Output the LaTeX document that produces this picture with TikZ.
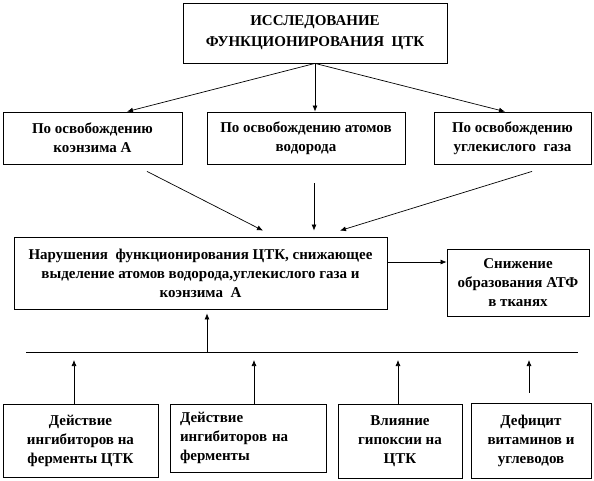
\documentclass[tikz,border=0pt]{standalone}
\usepackage{fontspec}
\setmainfont{Liberation Serif}
\usetikzlibrary{arrows.meta}

\begin{document}
\begin{tikzpicture}[
    x=1pt, y=-1pt,
    block/.style={
      draw,
      line width=0.8pt,
      align=center,
      inner sep=2pt,
      font=\bfseries\fontsize{15}{19}\selectfont
    },
    flow/.style={-{Latex[length=6pt,width=5pt]},line width=0.7pt}
  ]
    \useasboundingbox (0,0) rectangle (594,480);
    \node[block,minimum width=264pt,minimum height=60pt,font=\bfseries\fontsize{15}{21}\selectfont] (study) at (315,33) {ИССЛЕДОВАНИЕ\\ФУНКЦИОНИРОВАНИЯ~ ЦТК};
    \node[block,minimum width=179pt,minimum height=52pt] (coenz) at (92.5,138) {По освобождению\\коэнзима А};
    \node[block,minimum width=198pt,minimum height=52pt] (hydro) at (306,138) {По освобождению атомов\\водорода};
    \node[block,minimum width=157pt,minimum height=52pt] (carbon) at (512.5,138) {По освобождению\\углекислого~ газа};
    \node[block,minimum width=373pt,minimum height=72pt] (fail) at (200.5,273) {Нарушения~ функционирования ЦТК, снижающее\\выделение атомов водорода,углекислого газа и\\коэнзима~ А};
    \node[block,minimum width=142pt,minimum height=67pt] (atp) at (518,282.5) {Снижение\\образования АТФ\\в тканях};
    \node[block,minimum width=155pt,minimum height=73pt] (cause1) at (80.5,440.5) {Действие\\ингибиторов на\\ферменты ЦТК};
    \node[block,align=left,text width=136pt,inner xsep=10pt,minimum height=68pt] (cause2) at (248,438) {Действие\\ингибиторов на\\ферменты};
    \node[block,minimum width=124pt,minimum height=74pt] (cause3) at (400,441) {Влияние\\гипоксии на\\ЦТК};
    \node[block,minimum width=120pt,minimum height=75pt] (cause4) at (531,440.5) {Дефицит\\витаминов и\\углеводов};
    % first level
    \draw[flow] (study.south) -- ([xshift=34.5pt]coenz.north);
    \draw[flow] (study.south) -- (study.south |- hydro.north);
    \draw[flow] (study.south) -- ([xshift=-7.5pt]carbon.north);
    % to the disturbance box
    \draw[flow] ([xshift=54.5pt,yshift=-7pt]coenz.south) -- ([xshift=62.5pt,yshift=6pt]fail.north);
    \draw[flow] ([xshift=8pt,yshift=-19pt]hydro.south) -- ([xshift=113.5pt,yshift=6pt]fail.north);
    \draw[flow] ([xshift=19.5pt,yshift=-7pt]carbon.south) -- ([xshift=139.5pt,yshift=6pt]fail.north);
    \draw[flow] ([yshift=11pt]fail.east) -- ([yshift=20.5pt]atp.west);
    % causes
    \coordinate (busL) at (26,352);
    \coordinate (busR) at (578,352);
    \coordinate (busUp) at (207,352);
    \coordinate (in1) at (74,352);
    \coordinate (in2) at (254,352);
    \coordinate (in3) at (398,352);
    \coordinate (in4) at (529,352);
    \draw[line width=0.8pt] (busL) -- (busR);
    \draw[flow,shorten >=4pt] (busUp) -- (busUp |- fail.south);
    \foreach \b in {1,2,3}
      \draw[flow,shorten >=8pt] (cause\b.north -| in\b) -- (in\b);
    \draw[flow,shorten <=10pt,shorten >=8pt] (cause4.north -| in4) -- (in4);
  \end{tikzpicture}
\end{document}
